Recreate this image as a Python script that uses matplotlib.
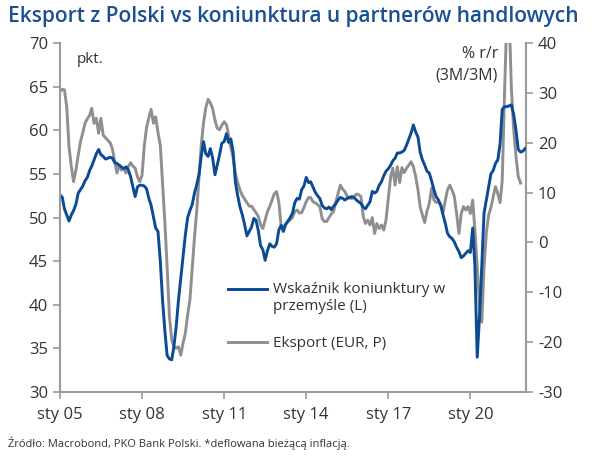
import matplotlib
matplotlib.use("Agg")
import matplotlib.pyplot as plt
from matplotlib.legend_handler import HandlerLine2D
import numpy as np
import pandas as pd

BLUE = "#0b4a94"
GREY = "#8f8f8f"
AXIS = "#9a9a9a"

# Wskaźnik koniunktury w przemyśle (L), monthly from Jan 2005 to Jan 2022
pmi = [
    52.6, 52.3, 51.0, 50.3, 49.6, 50.3, 50.8, 51.5, 52.8, 53.2, 53.6, 54.2,  # 2005
    54.6, 55.4, 55.9, 56.6, 57.3, 57.8, 57.2, 57.0, 56.7, 56.8, 56.9, 56.8,  # 2006
    56.3, 56.2, 56.0, 55.8, 55.6, 55.8, 55.5, 54.7, 53.5, 52.4, 53.5, 53.7,  # 2007
    53.7, 53.6, 53.3, 52.2, 51.4, 50.1, 48.8, 48.4, 45.0, 40.5, 37.0, 34.2,  # 2008
    33.8, 33.7, 35.2, 37.5, 40.5, 43.0, 45.5, 48.0, 50.0, 50.8, 51.5, 52.8,  # 2009
    53.8, 55.0, 57.0, 58.7, 57.3, 57.0, 57.9, 56.8, 54.9, 56.0, 57.2, 58.5,  # 2010
    58.7, 59.6, 58.6, 59.0, 57.5, 54.0, 52.5, 51.2, 50.3, 49.2, 47.9, 48.4,  # 2011
    48.9, 49.9, 49.7, 48.5, 46.8, 46.3, 45.1, 46.2, 47.0, 46.7, 46.6, 47.0,  # 2012
    48.6, 49.1, 48.4, 49.2, 49.6, 50.0, 50.5, 51.7, 52.2, 52.1, 53.2, 53.6,  # 2013
    54.6, 54.0, 54.1, 53.5, 52.9, 52.5, 52.2, 51.4, 51.1, 51.0, 51.2, 50.9,  # 2014
    51.3, 51.6, 52.0, 52.3, 52.2, 52.0, 52.2, 52.3, 52.4, 52.3, 52.0, 51.8,  # 2015
    51.6, 51.2, 51.0, 51.4, 51.8, 53.0, 52.8, 53.0, 53.7, 54.1, 54.8, 55.3,  # 2016
    55.6, 56.0, 56.5, 56.8, 57.4, 57.4, 57.5, 57.7, 58.3, 59.0, 59.7, 60.6,  # 2017
    59.8, 59.2, 57.5, 56.6, 56.0, 55.3, 55.1, 54.2, 53.2, 52.4, 52.0, 51.4,  # 2018
    50.3, 49.3, 48.2, 47.8, 47.6, 47.2, 46.6, 46.1, 45.4, 45.6, 45.9, 46.2,  # 2019
    46.0, 48.8, 44.5, 34.0, 38.5, 44.4, 50.5, 52.0, 53.5, 55.0, 55.4, 56.2,  # 2020
    56.6, 58.5, 62.4, 62.7, 62.7, 62.8, 62.9, 61.8, 60.0, 57.8, 57.5, 57.6,  # 2021
    57.9,                                                                    # 2022
]

# Eksport (EUR, P), % r/r (3M/3M), monthly from Jan 2005 to Nov 2021
export = [
    30.2, 30.7, 30.6, 27.2, 19.2, 15.2, 12.2, 14.5, 17.5, 20.2, 22.0, 23.9,  # 2005
    24.8, 25.5, 26.9, 23.9, 24.9, 21.9, 24.9, 21.5, 21.0, 20.5, 20.0, 18.8,  # 2006
    16.2, 13.9, 15.5, 14.5, 14.9, 13.9, 15.2, 16.0, 15.3, 14.9, 13.2, 12.2,  # 2007
    13.5, 19.5, 23.0, 25.0, 26.7, 23.9, 25.2, 22.0, 19.5, 12.0, 4.0, -5.0,   # 2008
    -14.9, -19.6, -20.9, -21.2, -20.9, -22.6, -20.2, -18.2, -14.5, -11.5, -5.0, 1.0,  # 2009
    6.5, 13.5, 19.5, 24.0, 27.0, 28.7, 28.0, 26.8, 24.5, 22.9, 22.6, 23.5,   # 2010
    24.2, 23.6, 21.5, 19.0, 17.0, 13.8, 12.0, 10.5, 9.4, 8.7, 8.0, 7.3,      # 2011
    7.3, 6.6, 6.0, 5.2, 3.6, 2.8, 4.5, 6.2, 7.2, 8.5, 9.8, 10.2,             # 2012
    8.0, 3.0, 3.2, 3.6, 4.2, 4.5, 5.0, 6.2, 6.5, 5.9, 6.0, 7.0,              # 2013
    8.2, 9.0, 9.0, 8.2, 7.9, 7.6, 7.2, 4.8, 4.2, 4.2, 5.0, 5.7,              # 2014
    6.2, 8.2, 9.8, 11.5, 10.7, 10.2, 9.3, 8.9, 8.8, 9.2, 9.7, 9.6,           # 2015
    9.2, 5.2, 3.8, 4.5, 3.5, 5.0, 1.8, 3.8, 2.8, 3.5, 2.5, 4.5,              # 2016
    9.0, 13.2, 14.9, 11.5, 15.2, 12.0, 15.0, 14.0, 14.9, 15.5, 16.2, 15.2,   # 2017
    13.2, 10.5, 7.2, 5.5, 4.0, 6.3, 7.8, 10.9, 8.5, 8.0, 8.2, 7.5,           # 2018
    6.0, 8.5, 10.5, 11.5, 10.5, 9.2, 5.8, 1.8, 5.8, 7.2, 6.5, 7.2,           # 2019
    5.8, 8.5, 2.5, -4.8, -12.5, -16.0, -5.0, 2.0, 5.5, 7.0, 9.2, 11.2,       # 2020
    9.8, 8.0, 12.5, 30.0, 45.0, 46.0, 31.0, 22.6, 17.2, 13.2, 11.9,          # 2021
]

tick_years = [2005, 2008, 2011, 2014, 2017, 2020]
tick_labels = ["sty 05", "sty 08", "sty 11", "sty 14", "sty 17", "sty 20"]

dates_pmi = pd.date_range("2005-01-01", periods=len(pmi), freq="MS")
dates_exp = pd.date_range("2005-01-01", periods=len(export), freq="MS")


class TopAlignedLine(HandlerLine2D):
    # put the legend line next to the first text line, not the middle
    def __init__(self, shift, **kw):
        super().__init__(**kw)
        self.shift = shift

    def create_artists(self, legend, orig_handle, xdescent, ydescent,
                       width, height, fontsize, trans):
        arts = super().create_artists(legend, orig_handle, xdescent, ydescent,
                                      width, height, fontsize, trans)
        for a in arts:
            a.set_ydata(np.asarray(a.get_ydata()) + self.shift)
        return arts


plt.rcParams["font.family"] = ["Open Sans", "DejaVu Sans"]
plt.rcParams["axes.unicode_minus"] = False

fig = plt.figure(figsize=(6.0, 4.57), dpi=100)
ax = fig.add_axes([0.1, 0.142, 0.777, 0.764])
ax2 = ax.twinx()

ax.set_zorder(ax2.get_zorder() + 1)
ax.patch.set_visible(False)

l2, = ax2.plot(dates_exp, export, color=GREY, lw=2.1, label="Eksport (EUR, P)")
l1, = ax.plot(dates_pmi, pmi, color=BLUE, lw=2.1,
              label="Wskaźnik koniunktury w\nprzemyśle (L)")

ax.set_ylim(30, 70)
ax.set_yticks(np.arange(30, 71, 5))
ax2.set_ylim(-30, 40)
ax2.set_yticks(np.arange(-30, 41, 10))

ax.set_xlim(pd.Timestamp("2005-01-01"), pd.Timestamp("2022-01-15"))
ax.set_xticks([pd.Timestamp(f"{y}-01-01") for y in tick_years])
ax.set_xticklabels(tick_labels)

for a in (ax, ax2):
    a.spines["top"].set_visible(False)
    for s in a.spines.values():
        s.set_color(AXIS)
        s.set_linewidth(1.5)
    a.tick_params(colors=AXIS, labelcolor="#333333", labelsize=12,
                  width=1.2, length=5, direction="out")
ax.spines["right"].set_visible(False)
ax2.spines["left"].set_visible(False)
ax2.spines["bottom"].set_visible(False)
ax.tick_params(axis="x", pad=6)

ax.text(0.035, 0.975, "pkt.", transform=ax.transAxes, fontsize=11,
        color="#333333", va="top", ha="left")
ax.text(0.94, 0.99, "% r/r\n(3M/3M)", transform=ax.transAxes, fontsize=11.5,
        color="#333333", va="top", ha="right", linespacing=1.45)

ax.legend(handles=[l1, l2], loc="lower left", bbox_to_anchor=(0.33, 0.078),
          frameon=False, fontsize=11, handlelength=2.6, labelspacing=1.45,
          handletextpad=0.4, labelcolor="#333333",
          handler_map={l1: TopAlignedLine(6.5)})

fig.text(0.013, 0.963, "Eksport z Polski vs koniunktura u partnerów handlowych",
         fontsize=15.0, fontweight="semibold", color="#1b4f93", ha="left", va="center")
fig.text(0.013, 0.03, "Źródło: Macrobond, PKO Bank Polski. *deflowana bieżącą inflacją.",
         fontsize=8.0, color="#333333", ha="left", va="center")

fig.savefig("out.png", dpi=100)
